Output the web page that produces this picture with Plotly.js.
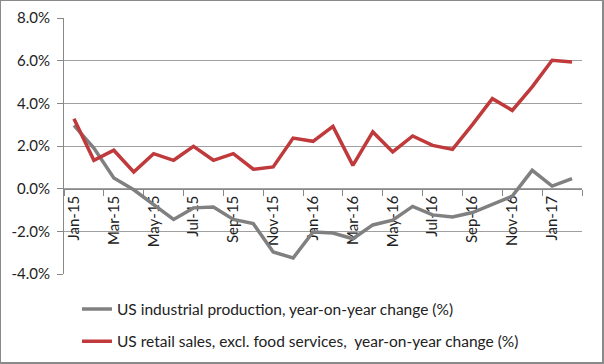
<!DOCTYPE html>
<html>
<head>
<meta charset="utf-8">
<script src="https://cdn.plot.ly/plotly-3.0.1.min.js"></script>
<style>
html,body{margin:0;padding:0;background:#fff;}
#chart{width:601px;height:361px;border-left:1px solid #8a8a8a;border-top:1px solid #8a8a8a;border-right:2px solid #8a8a8a;border-bottom:2px solid #8a8a8a;}
</style>
</head>
<body>
<div id="chart"></div>
<script>
var months = ["Jan-15","Feb-15","Mar-15","Apr-15","May-15","Jun-15","Jul-15","Aug-15","Sep-15","Oct-15","Nov-15","Dec-15",
              "Jan-16","Feb-16","Mar-16","Apr-16","May-16","Jun-16","Jul-16","Aug-16","Sep-16","Oct-16","Nov-16","Dec-16",
              "Jan-17","Feb-17"];
var industrialProduction = [2.97, 1.9, 0.5, -0.05, -0.75, -1.44, -0.9, -0.86, -1.44, -1.64, -2.97, -3.25,
                            -2.03, -2.08, -2.35, -1.7, -1.48, -0.83, -1.23, -1.33, -1.12, -0.72, -0.35, 0.86,
                            0.12, 0.47];
var retailSales = [3.28, 1.33, 1.8, 0.78, 1.64, 1.33, 1.98, 1.33, 1.64, 0.91, 1.02, 2.37,
                   2.22, 2.92, 1.09, 2.66, 1.72, 2.47, 2.03, 1.84, 3.0, 4.22, 3.67, 4.77,
                   6.02, 5.94];
var seriesNames = ["US industrial production, year-on-year change (%)",
                   "US retail sales, excl. food services,  year-on-year change (%)"];
var yTicks = [-4, -2, 0, 2, 4, 6, 8];
var yTickText = ["-4.0%", "-2.0%", "0.0%", "2.0%", "4.0%", "6.0%", "8.0%"];

var fontFam = "Lato, 'Liberation Sans', sans-serif";
var traces = [
  {x: months, y: industrialProduction, name: seriesNames[0], type: "scatter", mode: "lines",
   line: {color: "#808080", width: 3.5}, legendgroup: "a", hoverinfo: "skip"},
  {x: months, y: retailSales, name: seriesNames[1], type: "scatter", mode: "lines",
   line: {color: "#C0393B", width: 3.5}, legendgroup: "b", hoverinfo: "skip"}
];
var zeroPos = (0 - (-4)) / (8 - (-4));
var layout = {
  width: 601, height: 361,
  margin: {l: 63, r: 20, t: 17, b: 88, autoexpand: false},
  paper_bgcolor: "#fff", plot_bgcolor: "#fff",
  font: {family: fontFam, size: 15, color: "#222"},
  showlegend: true,
  legend: {x: 0.025, xanchor: "left", y: -0.072, yanchor: "top", orientation: "v",
           traceorder: "grouped", tracegroupgap: 9, font: {size: 15.5, color: "#222"},
           bgcolor: "rgba(0,0,0,0)"},
  xaxis: {type: "category", anchor: "free", position: zeroPos,
          range: [-0.5, months.length - 0.5], dtick: 2, tickangle: -90,
          tickson: "boundaries", ticks: "outside", ticklen: 6, tickcolor: "#888",
          showline: true, linecolor: "#888", linewidth: 1, showgrid: false, zeroline: false,
          tickfont: {size: 15, color: "#222"}, fixedrange: true, layer: "below traces"},
  yaxis: {range: [-4, 8], tickvals: yTicks, ticktext: yTickText, showgrid: true,
          gridcolor: "#a0a0a0", gridwidth: 1, zeroline: false, showline: true, linecolor: "#888",
          ticks: "outside", ticklen: 6, tickcolor: "#888", tickfont: {size: 15, color: "#222"},
          ticklabelstandoff: 4, fixedrange: true}
};
Plotly.newPlot("chart", traces, layout, {displayModeBar: false, staticPlot: true});
</script>
</body>
</html>
